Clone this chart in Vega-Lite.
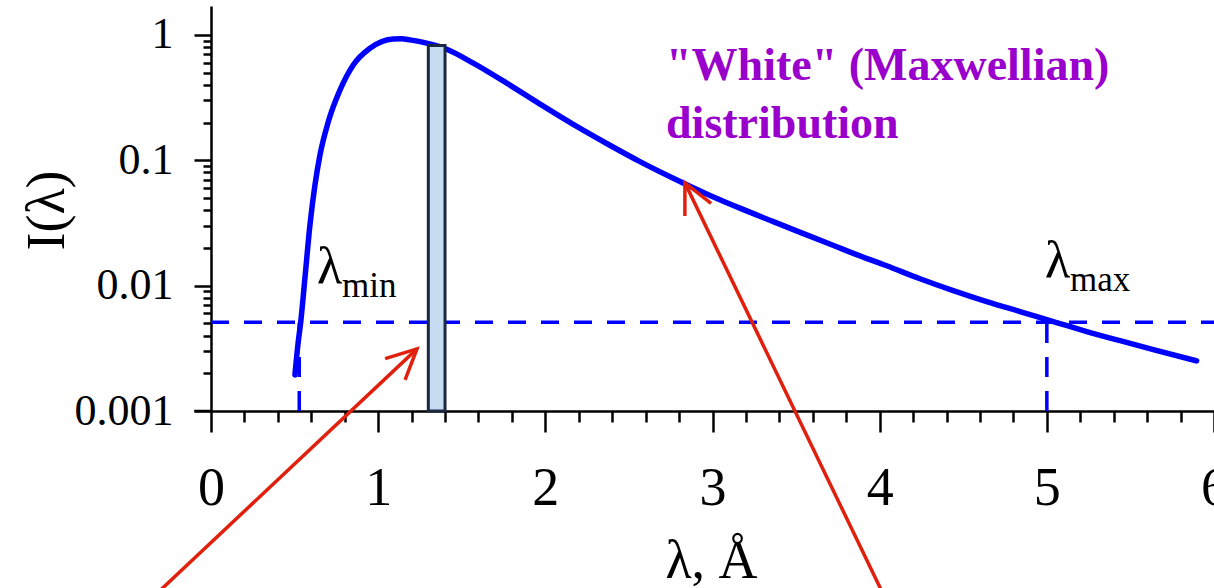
{
  "$schema": "https://vega.github.io/schema/vega-lite/v6.json",
  "width": 1003,
  "height": 405,
  "autosize": {"type": "none"},
  "padding": {"left": 211, "top": 6, "right": 0, "bottom": 177},
  "background": "white",
  "config": {"view": {"stroke": null}, "font": "Liberation Serif"},
  "resolve": {"axis": {"x": "independent", "y": "independent"}},
  "datasets": {
    "spectrum": [
      {"lam": 0.502, "I": 0.00194},
      {"lam": 0.522, "I": 0.00358},
      {"lam": 0.537, "I": 0.00516},
      {"lam": 0.562, "I": 0.01153},
      {"lam": 0.592, "I": 0.0305},
      {"lam": 0.622, "I": 0.0636},
      {"lam": 0.652, "I": 0.1104},
      {"lam": 0.702, "I": 0.2034},
      {"lam": 0.772, "I": 0.364},
      {"lam": 0.851, "I": 0.576},
      {"lam": 0.951, "I": 0.783},
      {"lam": 1.091, "I": 0.929},
      {"lam": 1.14, "I": 0.932},
      {"lam": 1.19, "I": 0.912},
      {"lam": 1.29, "I": 0.859},
      {"lam": 1.41, "I": 0.769},
      {"lam": 1.569, "I": 0.595},
      {"lam": 1.769, "I": 0.412},
      {"lam": 1.968, "I": 0.2805},
      {"lam": 2.167, "I": 0.1932},
      {"lam": 2.367, "I": 0.1361},
      {"lam": 2.566, "I": 0.0976},
      {"lam": 2.765, "I": 0.0719},
      {"lam": 2.965, "I": 0.0539},
      {"lam": 3.164, "I": 0.0415},
      {"lam": 3.364, "I": 0.0324},
      {"lam": 3.563, "I": 0.0254},
      {"lam": 3.743, "I": 0.0204},
      {"lam": 3.842, "I": 0.0181},
      {"lam": 4.042, "I": 0.0144},
      {"lam": 4.241, "I": 0.01135},
      {"lam": 4.44, "I": 0.00913},
      {"lam": 4.64, "I": 0.00746},
      {"lam": 4.839, "I": 0.00621},
      {"lam": 5.039, "I": 0.00517},
      {"lam": 5.238, "I": 0.0043},
      {"lam": 5.438, "I": 0.00364},
      {"lam": 5.637, "I": 0.00309},
      {"lam": 5.896, "I": 0.00251}
    ],
    "threshold": [{"lam": 0, "lam2": 6, "I": 0.0051}],
    "cutoffs": [
      {"lam": 0.528, "I": 0.001, "I2": 0.0051, "which": "min"},
      {"lam": 5.0, "I": 0.001, "I2": 0.0051, "which": "max"}
    ],
    "band": [{"lam": 1.3, "lam2": 1.4, "I": 0.001, "I2": 0.822}],
    "axisStub": [{"lam": -0.1, "lam2": 0, "I": 0.001}],
    "greek": [
      {"lam": 0.634, "I": 0.0105, "text": "λ"},
      {"lam": 4.989, "I": 0.01174, "text": "λ"}
    ],
    "subs": [
      {"lam": 0.784, "I": 0.00813, "text": "min"},
      {"lam": 5.139, "I": 0.00908, "text": "max"}
    ],
    "caption": [
      {"lam": 2.722, "I": 0.4375, "text": "\"White\" (Maxwellian)"},
      {"lam": 2.722, "I": 0.1508, "text": "distribution"}
    ],
    "arrows": [
      {"lam": -0.365, "I": 3.11e-5, "lam2": 1.232, "I2": 0.00313},
      {"lam": 4.038, "I": 3.11e-5, "lam2": 2.835, "I2": 0.066}
    ]
  },
  "layer": [
    {
      "data": {"name": "spectrum"},
      "mark": {"type": "line", "color": "#0000ff", "strokeWidth": 5.5, "interpolate": "monotone", "strokeCap": "round"},
      "encoding": {
        "x": {
          "field": "lam", "type": "quantitative",
          "scale": {"domain": [0, 6], "nice": false, "zero": false},
          "axis": {
            "orient": "bottom",
            "values": [0, 1, 2, 3, 4, 5, 6],
            "grid": false,
            "domainColor": "black", "domainWidth": 2.5,
            "tickColor": "black", "tickWidth": 2.5, "tickSize": 21,
            "labelExpr": "toString(round(datum.value))",
            "labelFont": "Liberation Serif", "labelFontSize": 54, "labelColor": "black",
            "labelBaseline": "alphabetic", "labelPadding": 72,
            "labelFlush": false, "labelOverlap": false, "labelBound": false,
            "title": "λ, Å",
            "titleFont": "Liberation Serif", "titleFontSize": 54, "titleFontWeight": "normal", "titleColor": "black",
            "titleX": 500, "titleY": 166, "titleAlign": "center", "titleBaseline": "alphabetic", "titleAngle": 0
          }
        },
        "y": {
          "field": "I", "type": "quantitative",
          "scale": {"type": "log", "domain": [0.001, 1.7], "nice": false},
          "axis": {
            "orient": "left",
            "values": [0.001, 0.01, 0.1, 1],
            "grid": false,
            "domainColor": "black", "domainWidth": 2.5,
            "tickColor": "black", "tickWidth": 2.5, "tickSize": 17,
            "labelExpr": "toString(datum.value)",
            "labelFont": "Liberation Serif", "labelFontSize": 44, "labelColor": "black",
            "labelAlign": "right", "labelBaseline": "middle", "labelPadding": 21,
            "labelFlush": false, "labelOverlap": false, "labelBound": false,
            "title": "I(λ)",
            "titleFont": "Liberation Serif", "titleFontSize": 54, "titleFontWeight": "normal", "titleColor": "black",
            "titleX": -164, "titleY": 204, "titleAlign": "center", "titleBaseline": "middle", "titleAngle": -90
          }
        }
      }
    },
    {
      "data": {"name": "threshold"},
      "mark": {"type": "rule", "color": "#0000ff", "strokeWidth": 3.5, "strokeDash": [18, 15]},
      "encoding": {
        "x": {
          "field": "lam", "type": "quantitative",
          "axis": {
            "orient": "bottom",
            "values": [0.2, 0.4, 0.6, 0.8, 1.2, 1.4, 1.6, 1.8, 2.2, 2.4, 2.6, 2.8, 3.2, 3.4, 3.6, 3.8, 4.2, 4.4, 4.6, 4.8, 5.2, 5.4, 5.6, 5.8],
            "grid": false, "domain": false, "labels": false, "title": null,
            "tickColor": "black", "tickWidth": 2.5, "tickSize": 11
          }
        },
        "x2": {"field": "lam2"},
        "y": {
          "field": "I", "type": "quantitative",
          "axis": {
            "orient": "left",
            "values": [0.002, 0.003, 0.004, 0.005, 0.006, 0.007, 0.008, 0.009, 0.02, 0.03, 0.04, 0.05, 0.06, 0.07, 0.08, 0.09, 0.2, 0.3, 0.4, 0.5, 0.6, 0.7, 0.8, 0.9],
            "grid": false, "domain": false, "labels": false, "title": null,
            "tickColor": "black", "tickWidth": 2.5, "tickSize": 8
          }
        }
      }
    },
    {
      "data": {"name": "cutoffs"},
      "mark": {"type": "rule", "color": "#0000ff", "strokeWidth": 3.5, "strokeDash": [20, 14]},
      "encoding": {
        "x": {"field": "lam", "type": "quantitative", "axis": null},
        "y": {"field": "I", "type": "quantitative", "axis": null},
        "y2": {"field": "I2"}
      }
    },
    {
      "data": {"name": "band"},
      "mark": {"type": "rect", "fill": "#c6dcf0", "stroke": "#1c2841", "strokeWidth": 3},
      "encoding": {
        "x": {"field": "lam", "type": "quantitative", "axis": null},
        "x2": {"field": "lam2"},
        "y": {"field": "I", "type": "quantitative", "axis": null},
        "y2": {"field": "I2"}
      }
    },
    {
      "data": {"name": "axisStub"},
      "mark": {"type": "rule", "color": "black", "strokeWidth": 2.5},
      "encoding": {
        "x": {"field": "lam", "type": "quantitative", "axis": null},
        "x2": {"field": "lam2"},
        "y": {"field": "I", "type": "quantitative", "axis": null}
      }
    },
    {
      "data": {"name": "greek"},
      "mark": {"type": "text", "font": "Liberation Serif", "fontSize": 52, "color": "black", "align": "left", "baseline": "alphabetic"},
      "encoding": {
        "x": {"field": "lam", "type": "quantitative", "axis": null},
        "y": {"field": "I", "type": "quantitative", "axis": null},
        "text": {"field": "text"}
      }
    },
    {
      "data": {"name": "subs"},
      "mark": {"type": "text", "font": "Liberation Serif", "fontSize": 35, "color": "black", "align": "left", "baseline": "alphabetic"},
      "encoding": {
        "x": {"field": "lam", "type": "quantitative", "axis": null},
        "y": {"field": "I", "type": "quantitative", "axis": null},
        "text": {"field": "text"}
      }
    },
    {
      "data": {"name": "caption"},
      "mark": {"type": "text", "font": "Liberation Serif", "fontSize": 46, "fontWeight": "bold", "color": "#9900cc", "align": "left", "baseline": "alphabetic"},
      "encoding": {
        "x": {"field": "lam", "type": "quantitative", "axis": null},
        "y": {"field": "I", "type": "quantitative", "axis": null},
        "text": {"field": "text"}
      }
    },
    {
      "data": {"name": "arrows"},
      "mark": {"type": "rule", "color": "#e0200c", "strokeWidth": 3.5},
      "encoding": {
        "x": {"field": "lam", "type": "quantitative", "axis": null},
        "y": {"field": "I", "type": "quantitative", "axis": null},
        "x2": {"field": "lam2"},
        "y2": {"field": "I2"}
      }
    },
    {
      "data": {"values": [{"lam": 1.232, "I": 0.00313}]},
      "mark": {"type": "point", "shape": "M -0.44 0.9 L 0 0 L 0.44 0.9", "filled": false, "stroke": "#e0200c", "strokeWidth": 3.5, "size": 4400, "angle": 47, "opacity": 1},
      "encoding": {
        "x": {"field": "lam", "type": "quantitative", "axis": null},
        "y": {"field": "I", "type": "quantitative", "axis": null}
      }
    },
    {
      "data": {"values": [{"lam": 2.835, "I": 0.066}]},
      "mark": {"type": "point", "shape": "M -0.44 0.9 L 0 0 L 0.44 0.9", "filled": false, "stroke": "#e0200c", "strokeWidth": 3.5, "size": 4400, "angle": 334, "opacity": 1},
      "encoding": {
        "x": {"field": "lam", "type": "quantitative", "axis": null},
        "y": {"field": "I", "type": "quantitative", "axis": null}
      }
    }
  ]
}
